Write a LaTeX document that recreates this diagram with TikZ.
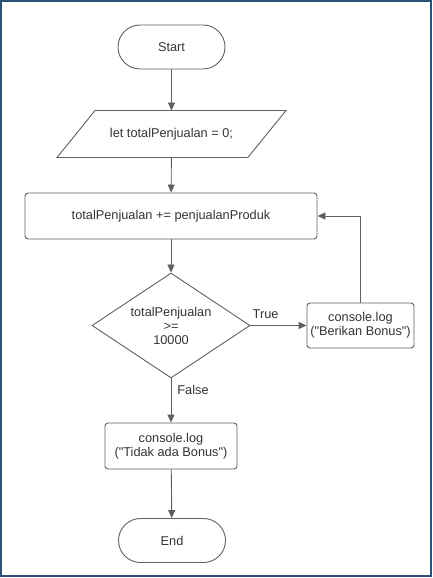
\documentclass[tikz,border=0pt]{standalone}
\usepackage{fontspec}
\setmainfont{Liberation Sans}[Ligatures=TeXOff]
\usetikzlibrary{shapes.geometric,arrows.meta}
\definecolor{framecol}{RGB}{44,84,122}
\definecolor{linecol}{RGB}{95,95,95}
\definecolor{textcol}{RGB}{51,51,51}
\tikzset{
  base/.style={draw=linecol, line width=0.9bp, text=textcol, font=\fontsize{12.8}{14}\selectfont, align=center, inner sep=0pt},
  term/.style={base, rectangle, rounded corners=22bp, minimum width=107bp, minimum height=44bp},
  io/.style={base, draw=none, rectangle, minimum width=190bp, minimum height=46bp},
  proc/.style={base, rectangle, rounded corners=3bp, minimum height=46bp},
  decision/.style={base, diamond, aspect=1.5, minimum width=158bp, minimum height=105bp},
  flow/.style={draw=linecol, line width=0.9bp, -{Triangle[length=8bp,width=7bp]}},
  lbl/.style={text=textcol, font=\fontsize{12.8}{14}\selectfont, inner sep=0pt}
}
\begin{document}
\begin{tikzpicture}[x=1bp, y=-1bp]
        \useasboundingbox (0,0) rectangle (433,578);
        \draw [framecol, line width=1.5bp] (1,1) rectangle (431,576);
        % shapes
        \node[term] (start) at (171.5,47) {Start};
        \node[io] (init) at (171.5,134) {let totalPenjualan = 0;};
        \draw [linecol, line width=0.9bp] ([xshift=19bp]init.north west) -- ([xshift=19bp]init.north east)
            -- ([xshift=-19bp]init.south east) -- ([xshift=-19bp]init.south west) -- cycle;
        \node[proc, minimum width=292bp] (update) at (171,216) {totalPenjualan += penjualanProduk};
        \node[decision] (cek) at (171,325.5) {totalPenjualan\\>=\\10000};
        \node[proc, minimum width=107bp, minimum height=45bp] (bonus) at (360.5,325.5) {console.log\\("Berikan Bonus")};
        \node[proc, minimum width=132bp] (nobonus) at (171,446) {console.log\\("Tidak ada Bonus")};
        \node[term] (stop) at (172,540.5) {End};
        % arrows
        \draw [flow] (start) -- (init);
        \draw [flow] (init) -- (update);
        \draw [flow] (update) -- (cek);
        \draw [flow] (cek) -- node[lbl, above=6bp, pos=0.27] {True} (bonus);
        \draw [flow] (bonus.north) |- (update.east);
        \draw [flow] (cek) -- node[lbl, right=6bp, pos=0.27] {False} (nobonus);
        \draw [flow] (nobonus) -- (stop);
    \end{tikzpicture}
\end{document}
